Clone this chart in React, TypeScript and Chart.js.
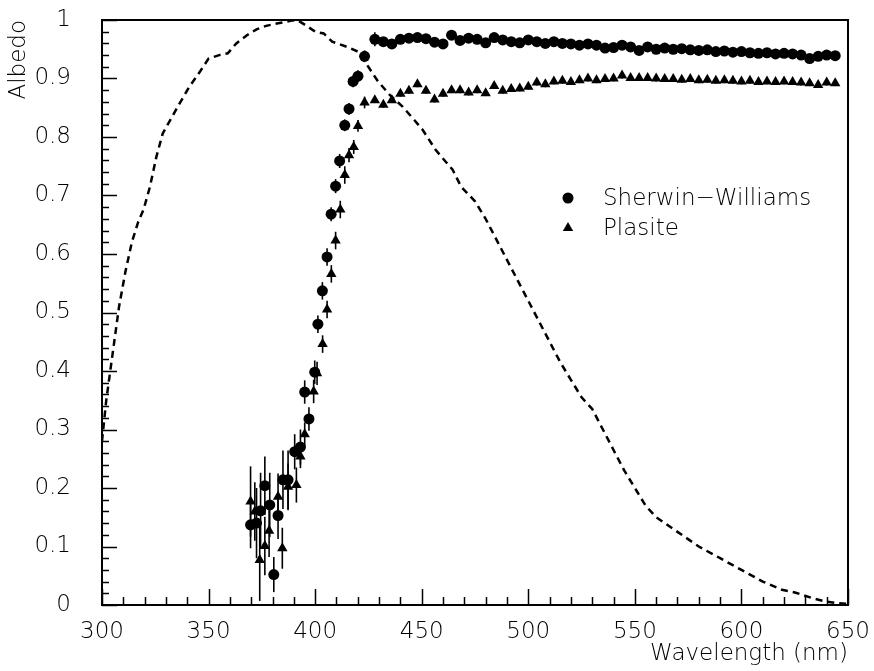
import React, { useEffect, useRef } from "react";
import { Chart, registerables } from "chart.js";

Chart.register(...registerables);

// ---------------- data ----------------
const swWavelength = [
  369.7, 372.5, 374.4, 376.4, 378.7, 380.6, 382.6, 384.9, 387.3, 390.4, 393.1, 395.1, 397.1, 399.8,
  401.3, 403.4, 405.6, 407.5, 409.6, 411.5, 413.9, 415.9, 417.8, 420.1, 423.2,
  428, 432, 436, 440, 444, 448, 452, 456, 460, 464, 468, 472, 476, 480, 484, 488, 492, 496,
  500, 504, 508, 512, 516, 520, 524, 528, 532, 536, 540, 544, 548, 552, 556, 560, 564, 568,
  572, 576, 580, 584, 588, 592, 596, 600, 604, 608, 612, 616, 620, 624, 628, 632, 636, 640, 644,
];
const swAlbedo = [
  0.137, 0.140, 0.161, 0.204, 0.171, 0.052, 0.153, 0.214, 0.214, 0.262, 0.270, 0.364, 0.318, 0.398,
  0.480, 0.537, 0.595, 0.668, 0.716, 0.759, 0.820, 0.848, 0.895, 0.904, 0.938,
  0.967, 0.963, 0.959, 0.967, 0.969, 0.970, 0.968, 0.962, 0.959, 0.974, 0.965, 0.969, 0.967, 0.961, 0.970, 0.966, 0.963, 0.961,
  0.966, 0.963, 0.960, 0.963, 0.960, 0.959, 0.957, 0.959, 0.957, 0.952, 0.953, 0.957, 0.954, 0.948, 0.954, 0.950, 0.952, 0.950,
  0.951, 0.949, 0.948, 0.949, 0.946, 0.947, 0.945, 0.946, 0.944, 0.943, 0.944, 0.942, 0.943, 0.942, 0.940, 0.934, 0.938, 0.940, 0.939,
];
const swError = [
  0.04, 0.06, 0.065, 0.05, 0.055, 0.03, 0.04, 0.05, 0.05, 0.03, 0.03, 0.02, 0.02, 0.02,
  0.015, 0.015, 0.015, 0.012, 0.012, 0.012, 0.01, 0.01, 0.01, 0.01, 0.01,
  0.012, 0.005, 0.005, 0.005, 0.005, 0.005, 0.005, 0.005, 0.005, 0.005, 0.005, 0.005, 0.005, 0.005, 0.005, 0.005, 0.005, 0.005,
  0.005, 0.005, 0.005, 0.005, 0.005, 0.005, 0.005, 0.005, 0.005, 0.005, 0.005, 0.005, 0.005, 0.005, 0.005, 0.005, 0.005, 0.005,
  0.005, 0.005, 0.005, 0.005, 0.005, 0.005, 0.005, 0.005, 0.005, 0.005, 0.005, 0.005, 0.005, 0.005, 0.005, 0.005, 0.005, 0.005, 0.005,
];

const plWavelength = [
  369.7, 371.7, 374.0, 376.4, 378.4, 382.6, 384.6, 387.3, 391.2, 393.1, 395.1, 399.3,
  400.9, 403.5, 405.6, 407.6, 409.6, 411.8, 413.9, 415.9, 418.1, 420.1, 423.2,
  428, 432, 436, 440, 444, 448, 452, 456, 460, 464, 468, 472, 476, 480, 484, 488, 492, 496,
  500, 504, 508, 512, 516, 520, 524, 528, 532, 536, 540, 544, 548, 552, 556, 560, 564, 568,
  572, 576, 580, 584, 588, 592, 596, 600, 604, 608, 612, 616, 620, 624, 628, 632, 636, 640, 644,
];
const plAlbedo = [
  0.177, 0.160, 0.077, 0.101, 0.127, 0.185, 0.097, 0.202, 0.205, 0.254, 0.292, 0.365,
  0.396, 0.446, 0.505, 0.566, 0.623, 0.676, 0.735, 0.769, 0.783, 0.819, 0.859,
  0.863, 0.855, 0.863, 0.874, 0.879, 0.890, 0.879, 0.864, 0.874, 0.880, 0.880, 0.876, 0.880, 0.875, 0.887, 0.879, 0.882, 0.883,
  0.886, 0.893, 0.890, 0.895, 0.896, 0.894, 0.897, 0.900, 0.897, 0.899, 0.900, 0.905, 0.901, 0.901, 0.901, 0.900, 0.899, 0.899,
  0.898, 0.899, 0.897, 0.898, 0.896, 0.897, 0.896, 0.895, 0.896, 0.894, 0.895, 0.894, 0.895, 0.894, 0.893, 0.892, 0.889, 0.893, 0.892,
];
const plError = [
  0.06, 0.05, 0.07, 0.05, 0.045, 0.04, 0.035, 0.04, 0.03, 0.02, 0.02, 0.02,
  0.02, 0.015, 0.015, 0.015, 0.015, 0.015, 0.015, 0.012, 0.012, 0.01, 0.01,
  0.005, 0.005, 0.005, 0.005, 0.005, 0.005, 0.005, 0.005, 0.005, 0.005, 0.005, 0.005, 0.005, 0.005, 0.005, 0.005, 0.005, 0.005,
  0.005, 0.005, 0.005, 0.005, 0.005, 0.005, 0.005, 0.005, 0.005, 0.005, 0.005, 0.005, 0.005, 0.005, 0.005, 0.005, 0.005, 0.005,
  0.005, 0.005, 0.005, 0.005, 0.005, 0.005, 0.005, 0.005, 0.005, 0.005, 0.005, 0.005, 0.005, 0.005, 0.005, 0.005, 0.005, 0.005, 0.005,
];

const curveWavelength = [
  300, 302, 305, 308, 311, 314, 317, 319.5, 322.5, 325.5, 328.5, 332, 336.5, 341, 346, 350,
  355, 359, 363, 368, 372.5, 377, 382, 389, 392, 396, 400, 404, 408, 415, 420, 425.5, 429.5,
  435, 441, 446.5, 450.5, 456.5, 464.5, 468.5, 475, 480, 485, 490, 495, 500, 505, 510, 515,
  520, 525, 530, 535, 540, 545, 550, 555, 560, 570, 580, 590, 600, 610, 619, 625.5, 633,
  639.5, 645, 650,
];
const curveValue = [
  0.28, 0.35, 0.43, 0.51, 0.57, 0.62, 0.655, 0.676, 0.715, 0.766, 0.806, 0.829, 0.858, 0.886, 0.912, 0.934,
  0.94, 0.943, 0.96, 0.974, 0.984, 0.99, 0.994, 0.999, 0.999, 0.99, 0.98, 0.977, 0.963, 0.954, 0.946, 0.917, 0.895,
  0.872, 0.852, 0.829, 0.812, 0.778, 0.744, 0.715, 0.69, 0.66, 0.625, 0.59, 0.555, 0.52, 0.485, 0.45, 0.415,
  0.385, 0.355, 0.335, 0.30, 0.265, 0.23, 0.20, 0.17, 0.15, 0.125, 0.10, 0.08, 0.06, 0.04, 0.026, 0.021, 0.012,
  0.006, 0.003, 0.002,
];

const xRange = [300, 650];
const yRange = [0, 1];
const xMajorStep = 50;
const xMinorStep = 10;
const yMajorStep = 0.1;
const yMinorStep = 0.02;

const seriesNames = ["Sherwin\u2212Williams", "Plasite"];
const xTitle = "Wavelength (nm)";
const yTitle = "Albedo";

const FONT = '"DejaVu Sans", "Liberation Sans", sans-serif';
const FONT_WEIGHT = "200";

// ---------------- plugins ----------------
const errorBarPlugin = {
  id: "errorBars",
  beforeDatasetsDraw(chart: any) {
    const { ctx } = chart;
    const xs = chart.scales.x;
    const ys = chart.scales.y;
    ctx.save();
    ctx.strokeStyle = "#000";
    ctx.lineWidth = 1.6;
    chart.data.datasets.forEach((ds: any) => {
      if (!ds.errors) return;
      ds.data.forEach((p: any, i: number) => {
        const e = ds.errors[i];
        if (!e) return;
        const x = xs.getPixelForValue(p.x);
        ctx.beginPath();
        ctx.moveTo(x, ys.getPixelForValue(p.y - e));
        ctx.lineTo(x, ys.getPixelForValue(p.y + e));
        ctx.stroke();
      });
    });
    ctx.restore();
  },
};

const framePlugin = {
  id: "frame",
  afterDraw(chart: any) {
    const { ctx, chartArea } = chart;
    const { left, right, top, bottom } = chartArea;
    const xs = chart.scales.x;
    const ys = chart.scales.y;
    ctx.save();
    ctx.strokeStyle = "#000";
    ctx.lineWidth = 1.5;
    const nX = Math.round((xRange[1] - xRange[0]) / xMinorStep);
    for (let i = 0; i <= nX; i++) {
      const v = xRange[0] + i * xMinorStep;
      const major = Math.abs(v / xMajorStep - Math.round(v / xMajorStep)) < 1e-6;
      const px = Math.round(xs.getPixelForValue(v)) + 0.5;
      ctx.beginPath();
      ctx.moveTo(px, bottom);
      ctx.lineTo(px, bottom - (major ? 16 : 8));
      ctx.stroke();
    }
    const nY = Math.round((yRange[1] - yRange[0]) / yMinorStep);
    for (let i = 0; i <= nY; i++) {
      const v = yRange[0] + i * yMinorStep;
      const major = i % Math.round(yMajorStep / yMinorStep) === 0;
      const py = Math.round(ys.getPixelForValue(v)) + 0.5;
      ctx.beginPath();
      ctx.moveTo(left, py);
      ctx.lineTo(left + (major ? 15 : 7), py);
      ctx.stroke();
    }
    ctx.lineWidth = 2;
    ctx.strokeRect(left, top, right - left, bottom - top);

    // legend
    const lx = left + 466;
    const ly1 = top + 178;
    const ly2 = top + 208;
    ctx.fillStyle = "#000";
    ctx.beginPath();
    ctx.arc(lx, ly1, 5.5, 0, Math.PI * 2);
    ctx.fill();
    const r = 6;
    ctx.beginPath();
    ctx.moveTo(lx, ly2 - r);
    ctx.lineTo(lx + r * Math.sin((2 * Math.PI) / 3), ly2 - r * Math.cos((2 * Math.PI) / 3));
    ctx.lineTo(lx + r * Math.sin((4 * Math.PI) / 3), ly2 - r * Math.cos((4 * Math.PI) / 3));
    ctx.closePath();
    ctx.fill();
    ctx.font = `${FONT_WEIGHT} 23px ${FONT}`;
    ctx.textBaseline = "alphabetic";
    ctx.textAlign = "left";
    ctx.fillText(seriesNames[0], lx + 35, ly1 + 7);
    ctx.fillText(seriesNames[1], lx + 35, ly2 + 7);
    ctx.restore();
  },
};

export default function App() {
  const canvasRef = useRef<HTMLCanvasElement | null>(null);

  useEffect(() => {
    if (!canvasRef.current) return;
    const swData = swWavelength.map((x, i) => ({ x, y: swAlbedo[i] }));
    const plData = plWavelength.map((x, i) => ({ x, y: plAlbedo[i] }));
    const curveData = curveWavelength.map((x, i) => ({ x, y: curveValue[i] }));
    const tickFont = { family: FONT, size: 23, weight: FONT_WEIGHT };

    const chart = new Chart(canvasRef.current, {
      type: "scatter",
      data: {
        datasets: [
          {
            label: "curve",
            data: curveData,
            showLine: true,
            borderColor: "#000",
            borderWidth: 2.5,
            borderDash: [7, 5],
            pointRadius: 0,
            tension: 0,
          } as any,
          {
            label: seriesNames[0],
            data: swData,
            errors: swError,
            pointStyle: "circle",
            pointRadius: 5.5,
            backgroundColor: "#000",
            borderColor: "#000",
            borderWidth: 0,
          } as any,
          {
            label: seriesNames[1],
            data: plData,
            errors: plError,
            pointStyle: "triangle",
            pointRadius: 6,
            backgroundColor: "#000",
            borderColor: "#000",
            borderWidth: 0,
          } as any,
        ],
      },
      options: {
        responsive: false,
        animation: false,
        events: [],
        layout: { padding: 0 },
        plugins: { legend: { display: false }, tooltip: { enabled: false } },
        scales: {
          x: {
            type: "linear",
            min: xRange[0],
            max: xRange[1],
            grid: { display: false },
            border: { display: false },
            ticks: {
              stepSize: xMajorStep,
              color: "#000",
              padding: 5,
              maxRotation: 0,
              autoSkip: false,
              font: tickFont,
              callback: (v: any) => String(v),
            },
            title: {
              display: true,
              text: xTitle,
              align: "end",
              color: "#000",
              font: tickFont,
              padding: { top: 0, bottom: 3 },
            },
            afterFit: (s: any) => {
              s.height = 66;
              s.paddingLeft = 0;
              s.paddingRight = 26;
            },
          },
          y: {
            type: "linear",
            min: yRange[0],
            max: yRange[1],
            grid: { display: false },
            border: { display: false },
            ticks: {
              stepSize: yMajorStep,
              color: "#000",
              padding: 23,
              font: tickFont,
              callback: (v: any) => String(Number(Number(v).toFixed(1))),
            },
            title: {
              display: true,
              text: yTitle,
              align: "end",
              color: "#000",
              font: tickFont,
              padding: { top: 5, bottom: 0 },
            },
            afterFit: (s: any) => {
              s.width = 102;
              s.paddingTop = 20;
              s.paddingBottom = 0;
            },
          },
        },
      } as any,
      plugins: [errorBarPlugin, framePlugin],
    });
    return () => chart.destroy();
  }, []);

  return (
    <div style={{ position: "fixed", left: 0, top: 0, width: 874, height: 671, background: "#fff" }}>
      <canvas ref={canvasRef} width={874} height={671} />
    </div>
  );
}
